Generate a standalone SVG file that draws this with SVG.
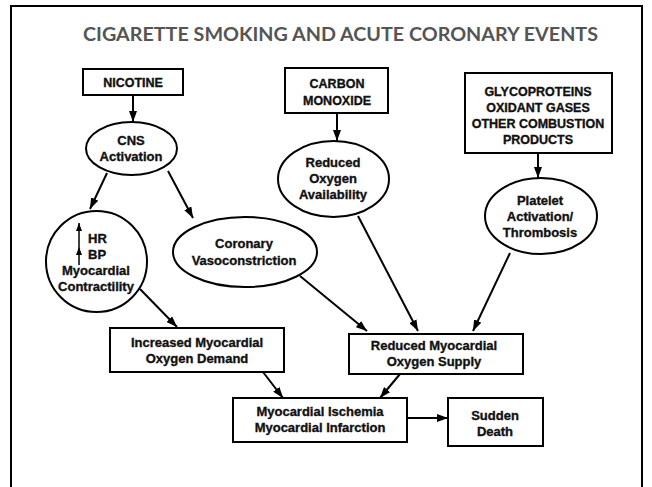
<svg xmlns="http://www.w3.org/2000/svg" width="652" height="487" viewBox="0 0 652 487">
  <style>
    .box { fill: #fff; stroke: #000; stroke-width: 2; }
    .lbl { font-family: "Liberation Sans", Arial, sans-serif; font-weight: bold; font-size: 13px; fill: #111; stroke: #111; stroke-width: 0.35; text-anchor: middle; }
    .cap { font-size: 12.5px; }
    .con { stroke: #000; stroke-width: 2; fill: none; marker-end: url(#ah); }
    .small { stroke: #000; stroke-width: 1.5; fill: none; marker-end: url(#ahs); }
    .title { font-family: Lato, "Open Sans", sans-serif; font-weight: bold; font-size: 18px; fill: #555; }
  </style>
  <defs>
    <marker id="ah" markerUnits="userSpaceOnUse" markerWidth="11" markerHeight="8" refX="11" refY="4" orient="auto">
      <path d="M0,0 L11,4 L0,8 z" fill="#000"/>
    </marker>
    <marker id="ahs" markerUnits="userSpaceOnUse" markerWidth="8" markerHeight="6" refX="8" refY="3" orient="auto">
      <path d="M0,0 L8,3 L0,6 z" fill="#000"/>
    </marker>
  </defs>
  <rect x="0" y="0" width="652" height="487" fill="#fff"/>
  <path d="M11,487 L11,6 L642,6 L642,487" fill="none" stroke="#000" stroke-width="2"/>
  <text class="title" x="83" y="41" textLength="515" lengthAdjust="spacingAndGlyphs">CIGARETTE SMOKING AND ACUTE CORONARY EVENTS</text>

  <g id="connectors">
    <line class="con" x1="133" y1="95" x2="133" y2="122"/>
    <line class="con" x1="107" y1="173" x2="90" y2="209"/>
    <line class="con" x1="168" y1="171" x2="193" y2="218"/>
    <line class="con" x1="337" y1="113" x2="337" y2="141"/>
    <line class="con" x1="538" y1="153" x2="538" y2="178"/>
    <line class="con" x1="140" y1="289" x2="177" y2="327"/>
    <line class="con" x1="300" y1="276" x2="367" y2="331"/>
    <line class="con" x1="358" y1="216" x2="418" y2="331"/>
    <line class="con" x1="510" y1="253" x2="473" y2="331"/>
    <line class="con" x1="263" y1="372" x2="283" y2="398"/>
    <line class="con" x1="400" y1="374" x2="380" y2="398"/>
    <line class="con" x1="407" y1="418" x2="448" y2="418"/>
  </g>

  <g id="nicotine">
    <rect class="box" x="83" y="69" width="100" height="26"/>
    <text class="lbl cap" x="133" y="87">NICOTINE</text>
  </g>
  <g id="cns">
    <ellipse class="box" cx="131.5" cy="148.5" rx="45.5" ry="26.5"/>
    <text class="lbl" x="131" y="145">CNS</text>
    <text class="lbl" x="131" y="161">Activation</text>
  </g>
  <g id="co">
    <rect class="box" x="285" y="68" width="103" height="45"/>
    <text class="lbl cap" x="337" y="88">CARBON</text>
    <text class="lbl cap" x="337" y="105">MONOXIDE</text>
  </g>
  <g id="roa">
    <ellipse class="box" cx="333.5" cy="179" rx="55.5" ry="38"/>
    <text class="lbl" x="333" y="167">Reduced</text>
    <text class="lbl" x="333" y="183">Oxygen</text>
    <text class="lbl" x="333" y="199">Availability</text>
  </g>
  <g id="glyco">
    <rect class="box" x="465" y="73" width="147" height="80"/>
    <text class="lbl cap" x="538" y="96">GLYCOPROTEINS</text>
    <text class="lbl cap" x="538" y="112">OXIDANT GASES</text>
    <text class="lbl cap" x="538" y="128">OTHER COMBUSTION</text>
    <text class="lbl cap" x="538" y="144">PRODUCTS</text>
  </g>
  <g id="platelet">
    <ellipse class="box" cx="541" cy="216" rx="56" ry="38"/>
    <text class="lbl" x="540" y="205">Platelet</text>
    <text class="lbl" x="540" y="221">Activation/</text>
    <text class="lbl" x="540" y="237">Thrombosis</text>
  </g>
  <g id="hrbp">
    <circle class="box" cx="96.5" cy="261.5" r="50.5"/>
    <line class="small" x1="79" y1="265" x2="79" y2="247"/>
    <line class="small" x1="79" y1="247" x2="79" y2="223"/>
    <text class="lbl" x="88" y="243" style="text-anchor:start">HR</text>
    <text class="lbl" x="88" y="259" style="text-anchor:start">BP</text>
    <text class="lbl" x="96" y="275">Myocardial</text>
    <text class="lbl" x="96" y="291">Contractility</text>
  </g>
  <g id="coronary">
    <ellipse class="box" cx="245" cy="252" rx="72" ry="35"/>
    <text class="lbl" x="244" y="248">Coronary</text>
    <text class="lbl" x="244" y="265">Vasoconstriction</text>
  </g>
  <g id="demand">
    <rect class="box" x="110" y="328" width="174" height="44"/>
    <text class="lbl" x="197" y="347">Increased Myocardial</text>
    <text class="lbl" x="197" y="363">Oxygen Demand</text>
  </g>
  <g id="supply">
    <rect class="box" x="349" y="334" width="174" height="40"/>
    <text class="lbl" x="434" y="350">Reduced Myocardial</text>
    <text class="lbl" x="434" y="366">Oxygen Supply</text>
  </g>
  <g id="ischemia">
    <rect class="box" x="233" y="398" width="174" height="44"/>
    <text class="lbl" x="320" y="416">Myocardial Ischemia</text>
    <text class="lbl" x="320" y="432">Myocardial Infarction</text>
  </g>
  <g id="death">
    <rect class="box" x="448" y="398" width="95" height="48"/>
    <text class="lbl" x="495" y="420">Sudden</text>
    <text class="lbl" x="495" y="436">Death</text>
  </g>
</svg>
